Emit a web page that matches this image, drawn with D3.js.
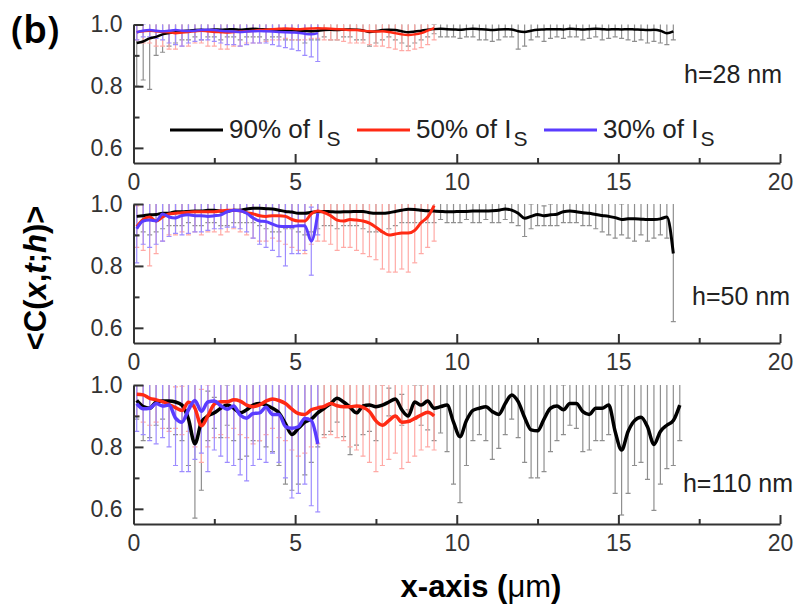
<!DOCTYPE html>
<html>
<head>
<meta charset="utf-8">
<script src="https://cdn.jsdelivr.net/npm/d3@7"></script>
<style>
  body { margin: 0; background: #fff; }
  svg { display: block; }
  text { font-family: "Liberation Sans", Arial, sans-serif; }
</style>
</head>
<body>
<script>
// sampling grid of the profiles (um)
var xStart = 0.1, xStep = 0.2;

// h = 28 nm
var topBlack = [.940,.945,.955,.960,.968,.972,.975,.978,.980,.982,
  .983,.982,.984,.983,.984,.985,.983,.985,.986,.985,
  .984,.983,.982,.980,.981,.980,.979,.978,.980,.982,
  .983,.982,.983,.984,.983,.981,.976,.978,.982,.983,
  .982,.978,.975,.977,.980,.983,.985,.986,.985,.984,
  .983,.985,.986,.985,.984,.982,.984,.985,.984,.978,
  .976,.980,.983,.984,.985,.985,.984,.986,.985,.984,
  .985,.986,.985,.984,.985,.984,.985,.984,.983,.982,
  .983,.980,.972,.978];
var topBlackLow = [.80,.82,.79,.90,.91,.93,.94,.95,.95,.96,
  .95,.96,.96,.95,.96,.96,.95,.96,.96,.96,
  .95,.96,.96,.95,.95,.95,.94,.95,.95,.96,
  .95,.95,.96,.96,.95,.95,.93,.94,.95,.96,
  .95,.94,.93,.94,.95,.96,.97,.96,.96,.96,
  .955,.96,.96,.95,.95,.945,.95,.96,.96,.92,
  .93,.95,.96,.945,.955,.96,.955,.96,.96,.95,
  .955,.96,.95,.955,.96,.955,.95,.945,.95,.94,
  .945,.94,.935,.95];
var topRed = [.975,.978,.980,.978,.976,.975,.972,.974,.976,.978,
  .980,.978,.976,.975,.974,.976,.977,.978,.980,.982,
  .983,.985,.986,.987,.986,.985,.986,.987,.988,.987,
  .986,.985,.984,.982,.982,.980,.978,.977,.978,.976,
  .972,.968,.966,.968,.972,.980,.988];
var topRedLow = [.95,.94,.94,.93,.93,.92,.92,.93,.93,.94,
  .94,.93,.93,.92,.92,.93,.93,.94,.94,.94,
  .945,.95,.95,.955,.95,.95,.95,.955,.955,.95,
  .95,.95,.945,.94,.94,.94,.935,.93,.93,.925,
  .92,.915,.915,.92,.925,.935,.95];
var topBlue = [.975,.980,.982,.980,.978,.980,.982,.980,.979,.980,
  .982,.983,.982,.980,.978,.977,.976,.977,.978,.979,
  .978,.977,.976,.975,.974,.973,.970,.968,.972];
var topBlueLow = [.95,.96,.96,.955,.95,.94,.935,.93,.94,.945,
  .95,.95,.945,.94,.935,.935,.93,.935,.94,.94,
  .94,.935,.93,.925,.92,.915,.90,.895,.88];

// h = 50 nm
var midBlack = [.960,.962,.965,.966,.970,.970,.975,.975,.976,.977,
  .977,.980,.980,.977,.976,.980,.980,.984,.986,.986,
  .985,.984,.980,.976,.974,.970,.970,.973,.975,.976,
  .975,.974,.975,.975,.976,.976,.972,.970,.970,.972,
  .976,.980,.983,.982,.980,.978,.977,.976,.975,.975,
  .976,.976,.977,.977,.977,.978,.980,.984,.980,.970,
  .954,.960,.966,.962,.965,.967,.975,.977,.975,.972,
  .970,.966,.963,.960,.956,.950,.952,.952,.951,.950,
  .950,.952,.958,.840];
var midBlackLow = [.90,.91,.90,.91,.92,.93,.93,.93,.94,.93,
  .93,.94,.94,.93,.93,.94,.94,.94,.94,.93,
  .92,.91,.91,.92,.92,.91,.90,.91,.92,.93,
  .93,.92,.93,.93,.93,.92,.91,.91,.91,.92,
  .93,.94,.94,.94,.94,.94,.94,.95,.94,.94,
  .94,.95,.94,.94,.95,.94,.94,.95,.94,.93,
  .895,.92,.93,.93,.93,.93,.94,.94,.94,.93,
  .93,.92,.91,.90,.89,.90,.89,.88,.90,.88,
  .89,.90,.89,.62];
var midRed = [.927,.950,.958,.945,.958,.968,.970,.972,.973,.975,
  .975,.975,.975,.978,.980,.980,.978,.972,.968,.962,
  .960,.962,.962,.960,.950,.945,.945,.968,.977,.972,
  .962,.948,.945,.950,.948,.945,.938,.925,.910,.900,
  .903,.906,.906,.915,.940,.958,.995];
var midRedLow = [.86,.85,.80,.84,.88,.90,.90,.91,.90,.91,
  .90,.91,.91,.90,.91,.92,.91,.90,.89,.88,
  .88,.89,.88,.87,.86,.85,.84,.87,.88,.88,
  .87,.85,.86,.86,.85,.84,.83,.82,.79,.78,
  .78,.79,.78,.81,.84,.86,.88];
var midBlue = [.920,.945,.948,.945,.968,.958,.955,.963,.965,.962,
  .962,.960,.962,.965,.975,.980,.978,.970,.955,.945,
  .943,.935,.928,.927,.927,.930,.930,.880,.970];
var midBlueLow = [.81,.87,.86,.87,.88,.895,.905,.90,.905,.91,
  .91,.915,.92,.92,.925,.925,.92,.91,.89,.87,
  .86,.85,.83,.80,.84,.84,.85,.77,.90];

// h = 110 nm
var botBlack = [.950,.930,.925,.945,.948,.948,.945,.935,.890,.810,
  .880,.900,.910,.925,.935,.925,.910,.920,.935,.940,
  .935,.925,.910,.875,.840,.860,.880,.890,.910,.925,
  .940,.957,.945,.928,.910,.932,.935,.930,.935,.945,
  .955,.920,.900,.945,.935,.948,.925,.930,.935,.880,
  .833,.885,.918,.925,.930,.914,.905,.940,.968,.946,
  .895,.855,.852,.890,.925,.932,.920,.940,.940,.914,
  .905,.925,.925,.935,.850,.790,.850,.885,.896,.865,
  .808,.850,.870,.885,.935];
var botBlackLow = [.89,.82,.83,.87,.89,.86,.84,.82,.74,.57,
  .66,.82,.86,.83,.87,.82,.76,.77,.82,.82,
  .80,.785,.74,.68,.66,.68,.71,.75,.80,.84,
  .85,.88,.833,.775,.806,.84,.85,.82,.87,.90,
  .90,.87,.88,.89,.87,.855,.82,.845,.785,.68,
  .62,.74,.82,.84,.82,.76,.795,.84,.89,.83,
  .75,.70,.70,.72,.785,.82,.84,.87,.86,.785,
  .79,.82,.82,.84,.65,.58,.65,.74,.75,.695,
  .595,.68,.73,.74,.82];
var botRed = [.970,.968,.957,.952,.946,.937,.927,.918,.944,.925,
  .868,.900,.938,.946,.946,.952,.948,.935,.930,.936,
  .948,.955,.950,.940,.922,.908,.905,.920,.926,.931,
  .940,.933,.930,.930,.932,.928,.914,.884,.870,.885,
  .900,.880,.882,.892,.903,.912,.900];
var botRedLow = [.90,.88,.87,.88,.86,.85,.86,.84,.85,.80,
  .75,.80,.83,.84,.83,.86,.84,.83,.81,.82,
  .84,.86,.83,.82,.79,.77,.78,.80,.81,.83,
  .84,.83,.82,.80,.79,.77,.75,.72,.74,.76,
  .78,.73,.75,.77,.79,.80,.79];
var botBlue = [.940,.923,.925,.940,.932,.935,.893,.880,.920,.950,
  .915,.945,.948,.933,.922,.932,.903,.893,.908,.910,
  .928,.905,.905,.866,.860,.865,.892,.885,.810];
var botBlueLow = [.85,.84,.82,.81,.83,.80,.74,.72,.72,.76,
  .78,.72,.79,.77,.75,.74,.71,.69,.74,.76,
  .75,.78,.75,.70,.635,.65,.68,.61,.59];

var xTicks = [0, 5, 10, 15, 20],
    xMinor = [2.5, 7.5, 12.5, 17.5],
    yTicks = [0.6, 0.8, 1.0],
    yMinor = [0.7, 0.9];
var legendNames = ["90% of I", "50% of I", "30% of I"];
var panelLabels = ["h=28 nm", "h=50 nm", "h=110 nm"];

var lineColors = ["#000000", "#ff2a14", "#5a3cff"],
    barColors = ["#8f8f8f", "#ffaaa6", "#9d8cff"];

var width = 800, height = 611;

var svg = d3.select("body").append("svg")
    .attr("width", width)
    .attr("height", height);

var x = d3.scaleLinear().domain([0, 20]).range([133.5, 780]);

var panels = [
  {top: 24.5, bottom: 163, lw: 2.5, label: panelLabels[0], lx: 782, ly: 83,
   series: [[topBlack, topBlackLow], [topRed, topRedLow], [topBlue, topBlueLow]]},
  {top: 204,  bottom: 343, lw: 3,   label: panelLabels[1], lx: 790, ly: 305,
   series: [[midBlack, midBlackLow], [midRed, midRedLow], [midBlue, midBlueLow]]},
  {top: 385,  bottom: 524, lw: 3.5, label: panelLabels[2], lx: 793, ly: 492,
   series: [[botBlack, botBlackLow], [botRed, botRedLow], [botBlue, botBlueLow]]}
];

panels.forEach(function(p, pi) {
  var y = d3.scaleLinear().domain([0.551, 1.0]).range([p.bottom, p.top]);
  var g = svg.append("g");

  svg.append("clipPath").attr("id", "clip" + pi)
    .append("rect")
    .attr("x", x(0)).attr("y", p.top)
    .attr("width", x(20) - x(0)).attr("height", p.bottom - p.top);

  // error bars
  var eb = g.append("g").attr("clip-path", "url(#clip" + pi + ")");
  p.series.forEach(function(s, si) {
    var pts = s[0].map(function(v, i) {
      return {x: xStart + i * xStep, m: v, lo: s[1][i], hi: v + (v - s[1][i])};
    });
    var bars = eb.append("g")
      .attr("stroke", barColors[si])
      .attr("stroke-width", 1.2)
      .selectAll("g").data(pts).enter().append("g");
    bars.append("line")
      .attr("x1", function(d) { return x(d.x); })
      .attr("x2", function(d) { return x(d.x); })
      .attr("y1", function(d) { return y(d.lo); })
      .attr("y2", function(d) { return y(d.hi); });
    bars.append("line")
      .attr("x1", function(d) { return x(d.x) - 2.5; })
      .attr("x2", function(d) { return x(d.x) + 2.5; })
      .attr("y1", function(d) { return y(d.lo); })
      .attr("y2", function(d) { return y(d.lo); });
    bars.append("line")
      .attr("x1", function(d) { return x(d.x) - 2.5; })
      .attr("x2", function(d) { return x(d.x) + 2.5; })
      .attr("y1", function(d) { return y(d.hi); })
      .attr("y2", function(d) { return y(d.hi); });
  });

  // mean lines
  p.series.forEach(function(s, si) {
    var line = d3.line()
      .x(function(d, i) { return x(xStart + i * xStep); })
      .y(function(d) { return y(d); })
      .curve(d3.curveMonotoneX);
    g.append("path")
      .datum(s[0])
      .attr("fill", "none")
      .attr("stroke", lineColors[si])
      .attr("stroke-width", p.lw)
      .attr("stroke-linejoin", "round")
      .attr("d", line);
  });

  // axes
  g.append("g")
    .attr("transform", "translate(0," + p.bottom + ")")
    .call(d3.axisBottom(x).tickValues(xTicks).tickSize(-9).tickSizeOuter(0).tickPadding(11));
  g.append("g")
    .attr("transform", "translate(0," + p.bottom + ")")
    .call(d3.axisBottom(x).tickValues(xMinor).tickSize(-5).tickFormat(""))
    .select(".domain").remove();
  g.append("g")
    .attr("transform", "translate(" + x(0) + ",0)")
    .call(d3.axisLeft(y).tickValues(yTicks).tickSize(-10).tickSizeOuter(0)
      .tickPadding(11).tickFormat(d3.format(".1f")));
  g.append("g")
    .attr("transform", "translate(" + x(0) + ",0)")
    .call(d3.axisLeft(y).tickValues(yMinor).tickSize(-6).tickFormat(""))
    .select(".domain").remove();

  g.selectAll(".domain, .tick line")
    .attr("stroke", "#333")
    .attr("stroke-width", 2);
  g.selectAll(".tick text")
    .attr("fill", "#333")
    .style("font-size", "23px")
    .style("font-family", "'Liberation Sans', Arial, sans-serif");

  g.append("text")
    .attr("x", p.lx).attr("y", p.ly)
    .attr("text-anchor", "end")
    .attr("fill", "#222")
    .style("font-size", "25px")
    .text(p.label);
});

// legend in the top panel
var legendX = [170, 357, 544];
legendNames.forEach(function(name, i) {
  svg.append("line")
    .attr("x1", legendX[i]).attr("x2", legendX[i] + 53)
    .attr("y1", 130).attr("y2", 130)
    .attr("stroke", lineColors[i])
    .attr("stroke-width", 3);
  var t = svg.append("text")
    .attr("x", legendX[i] + 59).attr("y", 138)
    .attr("fill", "#222")
    .style("font-size", "26px");
  t.append("tspan").text(name);
  t.append("tspan").attr("dx", 2).attr("dy", 8).style("font-size", "21px").text("S");
});

// panel letter
svg.append("text")
  .attr("x", 11).attr("y", 43)
  .style("font-family", "'Noto Sans', 'Open Sans', sans-serif")
  .style("font-size", "38px")
  .style("font-weight", "600")
  .attr("fill", "#000")
  .text("(b)");

// y title
var yt = svg.append("text")
  .attr("transform", "translate(46,278) rotate(-90)")
  .attr("text-anchor", "middle")
  .style("font-size", "31px")
  .style("font-weight", "bold")
  .attr("fill", "#000");
yt.append("tspan").text("<C(");
yt.append("tspan").style("font-style", "italic").text("x");
yt.append("tspan").text(",");
yt.append("tspan").style("font-style", "italic").text("t");
yt.append("tspan").text(";");
yt.append("tspan").style("font-style", "italic").text("h");
yt.append("tspan").text(")>");

// x title
var xt = svg.append("text")
  .attr("x", 481).attr("y", 597)
  .attr("text-anchor", "middle")
  .style("font-size", "31px")
  .style("font-weight", "bold")
  .attr("fill", "#000");
xt.append("tspan").text("x-axis (");
xt.append("tspan").style("font-weight", "normal").text("\u03bcm");
xt.append("tspan").text(")");
</script>
</body>
</html>
